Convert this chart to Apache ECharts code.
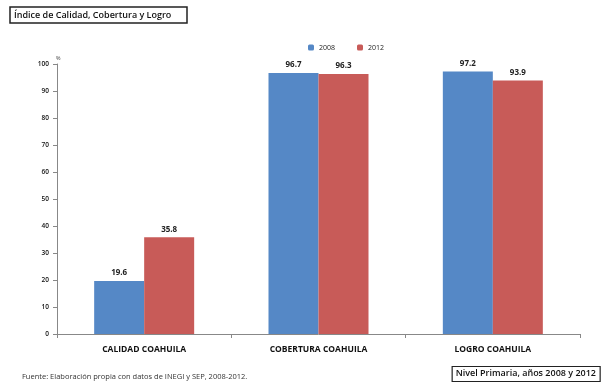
<!DOCTYPE html>
<html><head><meta charset="utf-8">
<script src="https://cdn.jsdelivr.net/npm/echarts@6/dist/echarts.min.js"></script>
<style>html,body{margin:0;padding:0;background:#fff}#c{width:602px;height:382px}</style>
</head><body><div id="c"></div>
<script>
const categories = ['CALIDAD COAHUILA', 'COBERTURA COAHUILA', 'LOGRO COAHUILA'];
const series2008 = [19.6, 96.7, 97.2];
const series2012 = [35.8, 96.3, 93.9];
const seriesNames = ['2008', '2012'];
const yTicks = [0, 10, 20, 30, 40, 50, 60, 70, 80, 90, 100];

const FONT = '"Open Sans", "DejaVu Sans", sans-serif';
const chart = echarts.init(document.getElementById('c'), null, {renderer: 'canvas'});
const lbl = {show: true, position: 'top', fontSize: 8, fontWeight: 'bold', color: '#222', fontFamily: FONT, distance: 4,
  formatter: p => p.value.toFixed(1)};
chart.setOption({
  animation: false,
  backgroundColor: '#fff',
  title: [
    {text: 'Índice de Calidad, Cobertura y Logro', left: 10, top: 7,
     borderColor: '#222', borderWidth: 1.5, padding: [4, 16, 3, 4], backgroundColor: '#fff',
     textStyle: {fontSize: 9, fontWeight: 600, color: '#111', fontFamily: FONT}},
    {text: 'Nivel Primaria, años 2008 y 2012', right: 2, top: 366,
     borderColor: '#222', borderWidth: 1.2, padding: [3, 4, 4, 4], backgroundColor: '#fff',
     textStyle: {fontSize: 9, fontWeight: 600, color: '#111', fontFamily: FONT}},
    {text: 'Fuente: Elaboración propia con datos de INEGI y SEP, 2008-2012.', left: 22, top: 373,
     padding: 0, textStyle: {fontSize: 7.5, fontWeight: 'normal', color: '#333', fontFamily: FONT}},
    {text: '%', left: 56, top: 56, padding: 0, textStyle: {fontSize: 5, fontWeight: 'normal', color: '#333'}}
  ],
  legend: {top: 39, left: 303, itemWidth: 6, itemHeight: 6, itemGap: 22,
    textStyle: {fontSize: 7, color: '#222', fontFamily: FONT}, data: seriesNames},
  grid: {left: 57, right: 22, top: 64, bottom: 48, containLabel: false},
  xAxis: {type: 'category', data: categories,
    axisLine: {lineStyle: {color: '#888', width: 1}},
    axisTick: {show: true, length: 4, lineStyle: {color: '#888'}},
    axisLabel: {fontSize: 8.5, fontWeight: 'bold', color: '#111', margin: 11, fontFamily: FONT}},
  yAxis: {type: 'value', min: 0, max: 100, interval: 10,
    axisLine: {show: true, lineStyle: {color: '#888', width: 1}},
    axisTick: {show: true, length: 4, lineStyle: {color: '#888'}},
    splitLine: {show: false},
    axisLabel: {fontSize: 6.5, fontWeight: 600, color: '#111', margin: 8, fontFamily: FONT,
      formatter: v => yTicks.includes(v) ? String(v) : ''}},
  series: [
    {name: seriesNames[0], type: 'bar', data: series2008, barWidth: 50, barGap: '0%',
     itemStyle: {color: '#5588C6'}, label: lbl},
    {name: seriesNames[1], type: 'bar', data: series2012, barWidth: 50,
     itemStyle: {color: '#C85B58'}, label: lbl}
  ]
});
</script></body></html>
